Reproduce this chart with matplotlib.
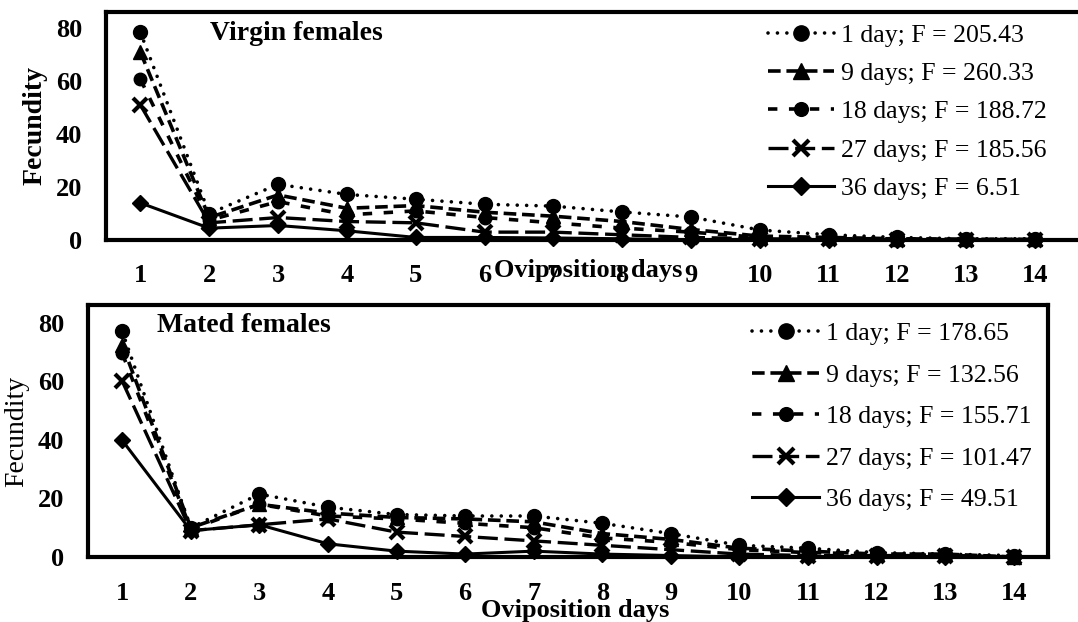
import matplotlib
matplotlib.use('Agg')
import matplotlib.pyplot as plt

# oviposition days
days = list(range(1, 15))

# virgin females, fecundity per day by female age
virgin_1d = [78.3, 10.0, 21.0, 17.2, 15.4, 13.5, 12.8, 10.6, 8.7, 3.8, 2.0, 1.0, 0.5, 0.5]
virgin_9d = [70.8, 8.5, 17.0, 12.0, 13.0, 10.5, 9.0, 7.0, 4.0, 1.5, 1.0, 0.5, 0.3, 0.3]
virgin_18d = [60.6, 7.5, 14.5, 9.5, 11.0, 8.5, 6.5, 4.5, 3.0, 1.0, 0.5, 0.5, 0.2, 0.2]
virgin_27d = [50.9, 6.5, 8.5, 7.0, 6.5, 3.0, 3.0, 2.0, 1.0, 0.5, 0.3, 0.0, 0.0, 0.0]
virgin_36d = [14.0, 4.5, 5.5, 3.5, 1.0, 1.0, 0.8, 0.5, 0.0, 0.0, 0.0, 0.0, 0.0, 0.0]

# mated females
mated_1d = [77.0, 10.0, 21.5, 17.0, 14.5, 14.0, 14.0, 11.5, 8.0, 4.0, 3.0, 1.5, 1.0, 0.5]
mated_9d = [72.5, 10.0, 18.0, 15.0, 13.5, 13.0, 12.0, 8.0, 6.0, 3.0, 2.0, 1.0, 1.0, 0.0]
mated_18d = [69.5, 9.5, 18.0, 14.0, 13.0, 11.5, 10.0, 6.5, 5.0, 2.5, 1.5, 1.0, 0.5, 0.0]
mated_27d = [60.0, 9.0, 11.0, 13.0, 8.5, 7.0, 5.5, 4.0, 2.5, 1.0, 0.5, 0.5, 0.5, 0.0]
mated_36d = [39.8, 9.0, 11.0, 4.5, 2.0, 1.0, 2.0, 1.0, 0.5, 0.0, 0.0, 0.0, 0.0, 0.0]

virgin_labels = ['1 day; F = 205.43', '9 days; F = 260.33', '18 days; F = 188.72',
                 '27 days; F = 185.56', '36 days; F = 6.51']
mated_labels = ['1 day; F = 178.65', '9 days; F = 132.56', '18 days; F = 155.71',
                '27 days; F = 101.47', '36 days; F = 49.51']

plt.rcParams['font.family'] = ['Liberation Serif', 'DejaVu Serif']

# line style per female age: (linestyle, marker, markersize, linewidth)
styles = [
    ((0, (0.01, 2.6)), 'o', 10, 2.6),
    ((0, (3.5, 1.6)), '^', 10, 2.6),
    ((0, (2.6, 3.2)), 'o', 9, 2.6),
    ((0, (6.0, 2.0)), 'x', 10, 2.4),
    ('-', 'D', 8, 2.2),
]


def draw_panel(ax, series, labels, title, title_xy, bold_ylabel, leg_anchor, leg_space, xpad):
    for vals, lab, (ls, mk, ms, lw) in zip(series, labels, styles):
        ax.plot(days, vals, linestyle=ls, marker=mk, markersize=ms, linewidth=lw,
                color='black', markeredgewidth=3 if mk == 'x' else 1,
                dash_capstyle='round' if mk == 'o' and ls[1][0] < 0.1 else 'butt',
                label=lab, clip_on=False, zorder=3)
    ax.set_ylim(0, 86)
    ax.set_yticks([0, 20, 40, 60, 80])
    ax.set_xticks(days)
    ax.tick_params(axis='x', length=0, labelsize=19, pad=xpad)
    ax.tick_params(axis='y', length=0, labelsize=19, pad=17)
    for t in ax.get_xticklabels() + ax.get_yticklabels():
        t.set_fontweight('bold')
    for s in ax.spines.values():
        s.set_linewidth(3)
    ax.set_ylabel('Fecundity', fontsize=20,
                  fontweight='bold' if bold_ylabel else 'normal', labelpad=6)
    # panel title, placed in figure pixels as in the original
    fig.text(title_xy[0] / 1078, 1 - title_xy[1] / 622, title, fontsize=20,
             fontweight='bold', va='center', ha='left')
    ax.legend(loc='upper left', bbox_to_anchor=leg_anchor, bbox_transform=fig.transFigure,
              frameon=False, fontsize=18.5, handlelength=2.6, handletextpad=0.25,
              numpoints=1, labelspacing=leg_space, borderpad=0, borderaxespad=0,
              markerscale=1.1)


fig = plt.figure(figsize=(10.78, 6.22), dpi=100)

ax1 = fig.add_axes([0.0983, 0.614, 0.913, 0.367])
ax1.set_xlim(0.5, 14.8)
draw_panel(ax1, [virgin_1d, virgin_9d, virgin_18d, virgin_27d, virgin_36d],
           virgin_labels, 'Virgin females', (210, 33), True, (0.712, 0.962), 0.6, 17)

ax2 = fig.add_axes([0.0816, 0.1045, 0.8905, 0.405])
ax2.set_xlim(0.5, 14.5)
draw_panel(ax2, [mated_1d, mated_9d, mated_18d, mated_27d, mated_36d],
           mated_labels, 'Mated females', (157, 326), False, (0.698, 0.482), 0.72, 18)

fig.text(588 / 1078, 1 - 270 / 622, 'Oviposition days', fontsize=19, fontweight='bold',
         ha='center', va='center')
fig.text(575 / 1078, 1 - 610 / 622, 'Oviposition days', fontsize=19, fontweight='bold',
         ha='center', va='center')

fig.savefig('out.png', dpi=100)
